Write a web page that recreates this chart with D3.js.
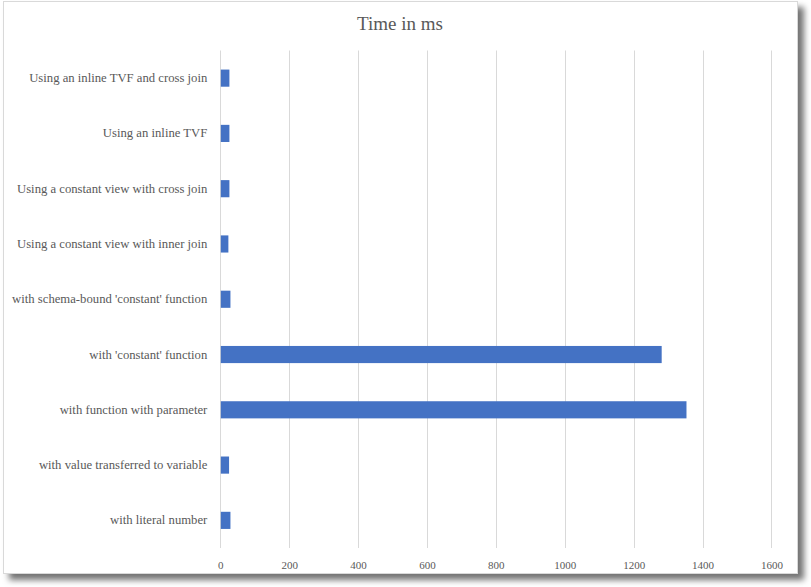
<!doctype html>
<html>
<head>
<meta charset="utf-8"/>
<script src="https://cdnjs.cloudflare.com/ajax/libs/d3/7.8.5/d3.min.js"></script>
<style>
  body { margin: 0; background: #fff; }
  svg { display: block; }
  text { font-family: "Liberation Serif", "DejaVu Serif", serif; fill: #595959; }
</style>
</head>
<body>
<svg width="811" height="587"></svg>
<script>
  var categories = [
    "Using an inline TVF and cross join",
    "Using an inline TVF",
    "Using a constant view with cross join",
    "Using a constant view with inner join",
    "with schema-bound 'constant' function",
    "with 'constant' function",
    "with function with parameter",
    "with value transferred to variable",
    "with literal number"
  ];
  var timeMs = [25, 25, 25, 22, 28, 1280, 1352, 24, 28];
  var xTicks = [0, 200, 400, 600, 800, 1000, 1200, 1400, 1600];

  var svg = d3.select("svg");

  // drop shadow for the chart frame
  var defs = svg.append("defs");
  var f = defs.append("filter").attr("id", "shadow")
    .attr("x", "-5%").attr("y", "-5%").attr("width", "115%").attr("height", "115%");
  f.append("feDropShadow").attr("dx", 6).attr("dy", 6).attr("stdDeviation", 3)
    .attr("flood-color", "#000").attr("flood-opacity", 0.55);

  svg.append("rect")
    .attr("x", 3.5).attr("y", 1.5).attr("width", 794).attr("height", 572)
    .attr("fill", "#fff").attr("stroke", "#d9d9d9").attr("stroke-width", 1)
    .attr("filter", "url(#shadow)");

  var plotLeft = 220.3, plotRight = 771.4, plotTop = 50.5, plotBottom = 548;

  var x = d3.scaleLinear().domain([0, 1600]).range([plotLeft, plotRight]);
  var y = d3.scaleBand().domain(categories).range([plotTop, plotBottom]).paddingInner(0.69).paddingOuter(0.345);

  // gridlines
  svg.append("g").selectAll("line").data(xTicks).enter().append("line")
    .attr("x1", function(d){ return Math.round(x(d)) + 0.5; })
    .attr("x2", function(d){ return Math.round(x(d)) + 0.5; })
    .attr("y1", plotTop).attr("y2", plotBottom)
    .attr("stroke", "#d9d9d9").attr("stroke-width", 1);

  // x axis labels
  var xAxis = d3.axisBottom(x).tickValues(xTicks).tickFormat(d3.format("d")).tickSize(0).tickPadding(0);
  var xg = svg.append("g").attr("transform", "translate(0," + 560 + ")").call(xAxis);
  xg.select(".domain").remove();
  xg.selectAll("text").attr("font-size", 11).attr("fill", "#595959")
    .style("font-family", "'Liberation Serif', serif").attr("dy", "0.35em").attr("y", 5);

  // y axis labels
  var yAxis = d3.axisLeft(y).tickSize(0).tickPadding(13);
  var yg = svg.append("g").attr("transform", "translate(" + plotLeft + ",0)").call(yAxis);
  yg.select(".domain").remove();
  yg.selectAll("text").attr("font-size", 12.7).attr("fill", "#595959")
    .style("font-family", "'Liberation Serif', serif");

  // bars
  svg.append("g").selectAll("rect").data(timeMs).enter().append("rect")
    .attr("x", x(0) + 0.5)
    .attr("y", function(d, i){ return y(categories[i]); })
    .attr("width", function(d){ return x(d) - x(0); })
    .attr("height", y.bandwidth())
    .attr("fill", "#4472c4");

  // title
  svg.append("text").attr("x", 400).attr("y", 30).attr("text-anchor", "middle")
    .attr("font-size", 19).text("Time in ms");
</script>
</body>
</html>
